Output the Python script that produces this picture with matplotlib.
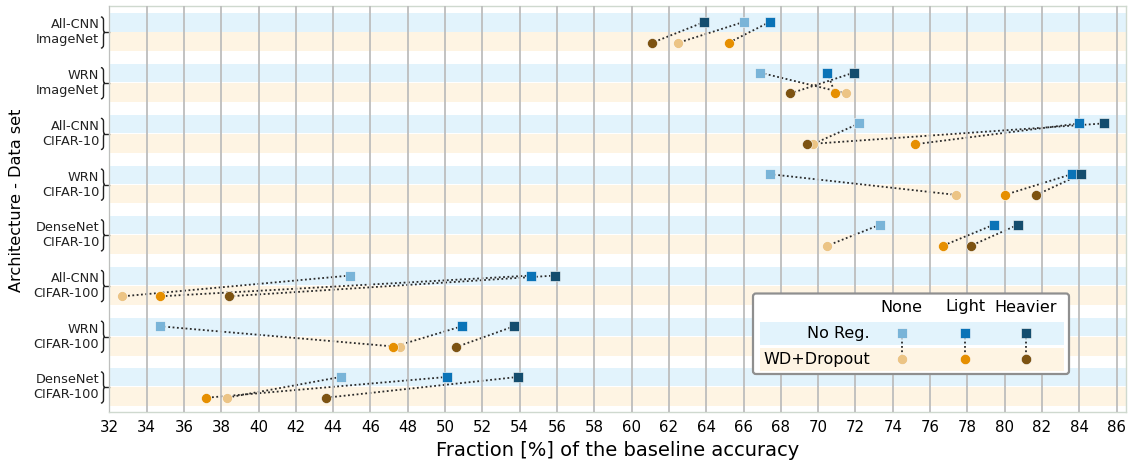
import matplotlib
matplotlib.use("Agg")
import matplotlib.pyplot as plt
import matplotlib.transforms as mtransforms
from matplotlib.path import Path
from matplotlib.patches import PathPatch, FancyBboxPatch, Rectangle

groups = [
    "All-CNN\nImageNet",
    "WRN\nImageNet",
    "All-CNN\nCIFAR-10",
    "WRN\nCIFAR-10",
    "DenseNet\nCIFAR-10",
    "All-CNN\nCIFAR-100",
    "WRN\nCIFAR-100",
    "DenseNet\nCIFAR-100",
]
levels = ["None", "Light", "Heavier"]

# fraction [%] of the baseline accuracy, no regularisation (squares)
noreg_none = [66.0, 66.9, 72.2, 67.4, 73.3, 44.9, 34.7, 44.4]
noreg_light = [67.4, 70.5, 84.0, 83.6, 79.4, 54.6, 50.9, 50.1]
noreg_heavier = [63.9, 71.9, 85.3, 84.1, 80.7, 55.9, 53.7, 53.9]
# WD + dropout (circles)
wd_none = [62.5, 71.5, 69.7, 77.4, 70.5, 32.7, 47.6, 38.3]
wd_light = [65.2, 70.9, 75.2, 80.0, 76.7, 34.7, 47.2, 37.2]
wd_heavier = [61.1, 68.5, 69.4, 81.7, 78.2, 38.4, 50.6, 43.6]

sq_colors = ["#79b4d8", "#0a73b7", "#144d6e"]
ci_colors = ["#ecc485", "#e68f00", "#7d5312"]
band_blue = "#e2f3fc"
band_orange = "#fef4e3"
dot_style = dict(color="#2a2a2a", linestyle=(0, (1, 1.4)), linewidth=1.3)

fig = plt.figure(figsize=(11.29, 4.63), dpi=100)
ax = fig.add_axes([0.0968, 0.1108, 0.9005, 0.8762])

n = len(groups)
ax.set_xlim(32, 86.5)
ax.set_ylim(n, 0)

SQ_Y, CI_Y = 0.315, 0.725
for i in range(n):
    ax.axhspan(i + 0.145, i + 0.503, color=band_blue, lw=0, zorder=0)
    ax.axhspan(i + 0.522, i + 0.893, color=band_orange, lw=0, zorder=0)

ax.set_xticks(range(32, 87, 2))
ax.grid(axis="x", color="#bdbdbd", linewidth=1.3, zorder=1)
ax.set_axisbelow(False)
ax.tick_params(axis="x", length=0, labelsize=10.8, pad=6)
ax.set_yticks([])
for s in ax.spines.values():
    s.set_color("#cfd9cf")
    s.set_linewidth(1.0)

sq_series = [noreg_none, noreg_light, noreg_heavier]
ci_series = [wd_none, wd_light, wd_heavier]
for k in range(3):
    for i in range(n):
        ax.plot([sq_series[k][i], ci_series[k][i]], [i + SQ_Y, i + CI_Y],
                zorder=2, **dot_style)
for k in range(3):
    ax.plot(sq_series[k], [i + SQ_Y for i in range(n)], "s", ms=6.6,
            color=sq_colors[k], mec="white", mew=0.4, zorder=3, ls="none")
    ax.plot(ci_series[k], [i + CI_Y for i in range(n)], "o", ms=7.2,
            color=ci_colors[k], mec="white", mew=0.4, zorder=3, ls="none")

# group labels with curly braces
trans = mtransforms.blended_transform_factory(ax.transAxes, ax.transData)
px = 1.0 / (ax.get_position().width * 1129)
for i, label in enumerate(groups):
    ym = i + 0.52
    yt, yb = i + 0.215, i + 0.83
    x0, x1, x2 = -8.4 * px, -5.8 * px, -4.4 * px
    r = 0.06
    verts = [
        (x0, yt), (x1, yt), (x1, yt + r),
        (x1, ym - r),
        (x1, ym), (x2, ym), (x2, ym),
        (x1, ym), (x1, ym + r),
        (x1, yb - r),
        (x1, yb), (x0, yb),
    ]
    codes = [Path.MOVETO, Path.CURVE3, Path.CURVE3, Path.LINETO,
             Path.CURVE4, Path.CURVE4, Path.CURVE4,
             Path.CURVE3, Path.CURVE3, Path.LINETO,
             Path.CURVE3, Path.CURVE3]
    ax.add_patch(PathPatch(Path(verts, codes), fill=False, edgecolor="#222222",
                           lw=1.0, transform=trans, clip_on=False))
    ax.plot([x2, 0], [ym, ym], color="#222222", lw=1.0, transform=trans,
            clip_on=False)
    ax.text(-10.0 * px, ym, label, transform=trans, ha="right", va="center",
            fontsize=9.3, color="#222222")

ax.set_xlabel("Fraction [%] of the baseline accuracy", fontsize=14, labelpad=4)
fig.text(17 / 1129, 1 - 200 / 463, "Architecture - Data set", rotation=90,
         ha="center", va="center", fontsize=11.6)

# custom legend drawn in pixel coordinates
lax = fig.add_axes([0, 0, 1, 1], facecolor="none")
lax.set_xlim(0, 1129)
lax.set_ylim(463, 0)
lax.axis("off")
lax.add_patch(FancyBboxPatch((753, 293.5), 316, 80.5,
                             boxstyle="round,pad=0,rounding_size=3",
                             facecolor="white", edgecolor="#8f8f8f", lw=1.6,
                             zorder=5))
lax.add_patch(Rectangle((759.5, 321.7), 304, 23.3, color=band_blue, lw=0, zorder=6))
lax.add_patch(Rectangle((759.5, 347.7), 304, 23, color=band_orange, lw=0, zorder=6))
col_x = [901.7, 965, 1026]
for k, lev in enumerate(levels):
    lax.text(col_x[k], 307, lev, ha="center", va="center", fontsize=11.5,
             zorder=7)
    lax.plot([col_x[k], col_x[k]], [333.3, 359.3], zorder=7, **dot_style)
    lax.plot(col_x[k], 333.3, "s", ms=7.0, color=sq_colors[k], mec="white",
             mew=0.4, zorder=8)
    lax.plot(col_x[k], 359.3, "o", ms=7.4, color=ci_colors[k], mec="white",
             mew=0.4, zorder=8)
lax.text(870, 333.3, "No Reg.", ha="right", va="center", fontsize=11.5, zorder=7)
lax.text(870, 359.3, "WD+Dropout", ha="right", va="center", fontsize=11.5,
         zorder=7)

fig.savefig("out.png", dpi=100)
